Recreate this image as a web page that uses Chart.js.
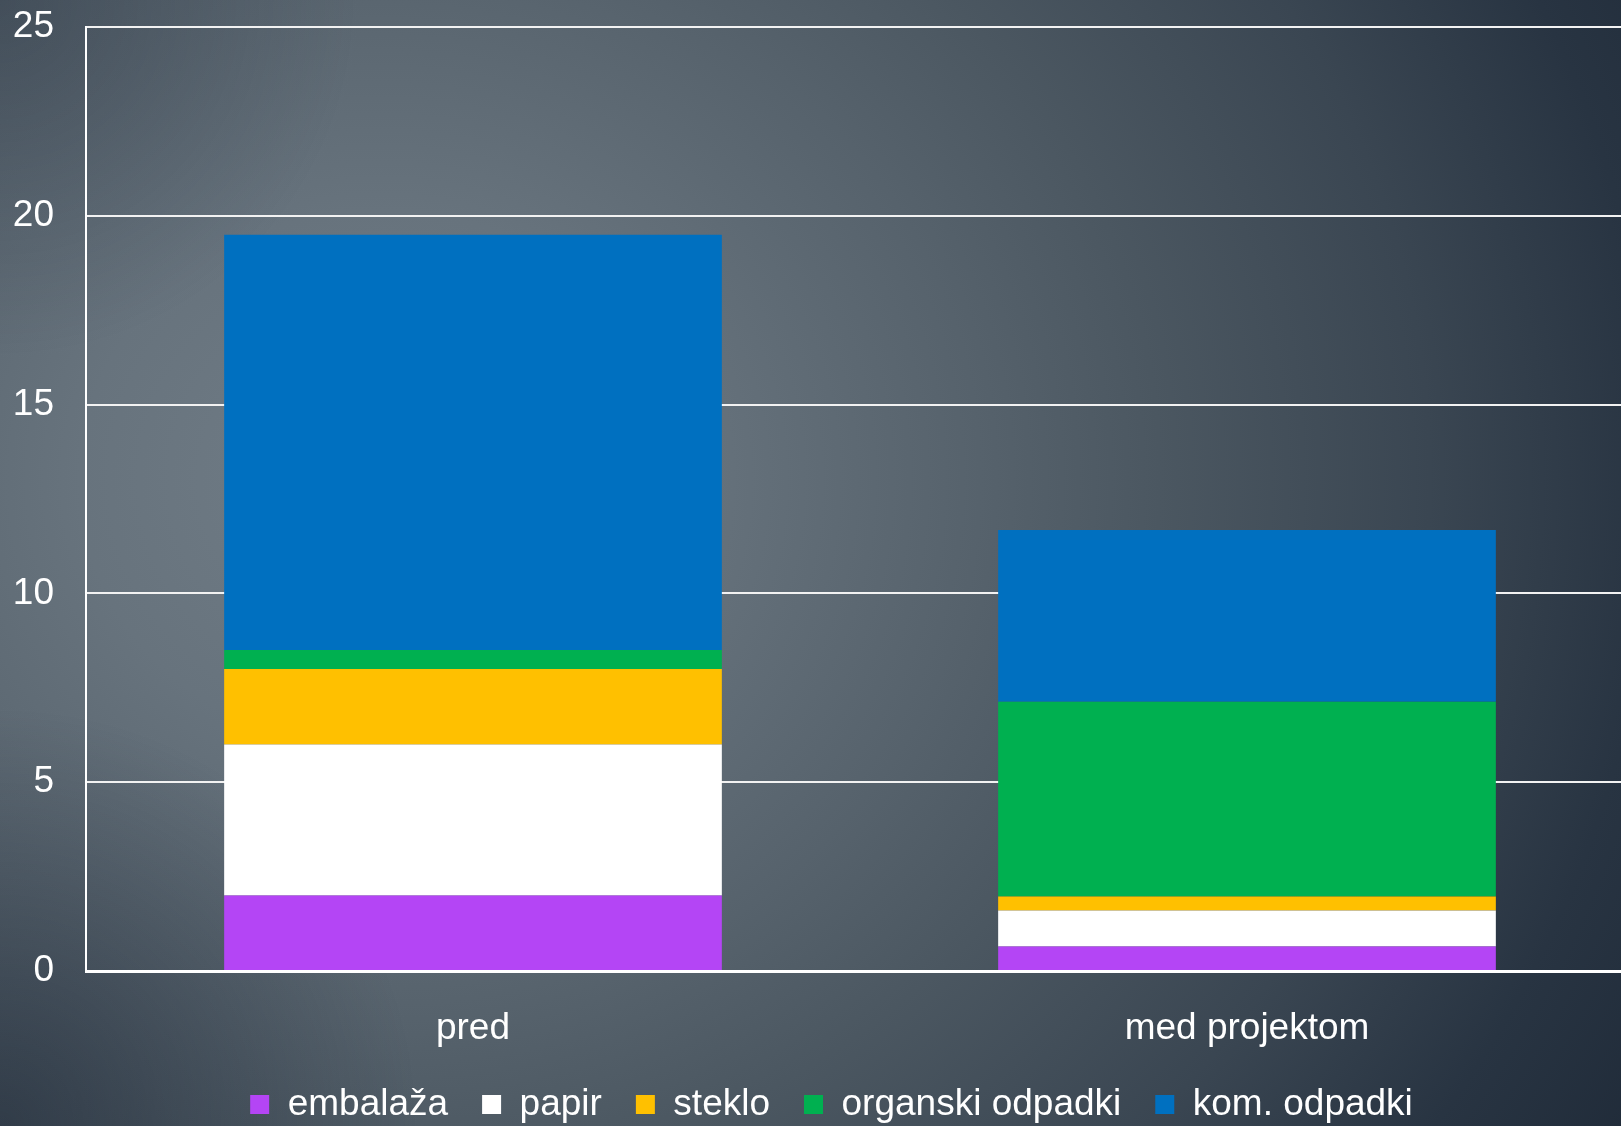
<!DOCTYPE html>
<html>
<head>
<meta charset="utf-8">
<title>Odpadki pred in med projektom</title>
<script src="https://cdn.jsdelivr.net/npm/chart.js@4.4.1/dist/chart.umd.min.js"></script>
<style>
  html, body { margin: 0; padding: 0; width: 100%; height: 100%; overflow: hidden; }
  body {
    background:
      radial-gradient(circle at 0px 1126px, rgba(25, 35, 50, 0.5) 0px, rgba(25, 35, 50, 0) 420px),
      radial-gradient(circle at 0px 0px, rgba(30, 40, 55, 0.3) 0px, rgba(30, 40, 55, 0) 360px),
      radial-gradient(ellipse 1500px 1350px at 380px 480px,
        #717d87 0%, #67737d 20%, #56626c 40%, #4b5761 52%, #3a4652 70%, #283442 85%, #1e2937 100%);
  }
  #wrap { position: absolute; left: 0; top: 0; width: 1634px; height: 1133px; }
</style>
</head>
<body>
<div id="wrap"><canvas id="odpadkiChart"></canvas></div>
<script>
// categories and series (stacked from the bottom up)
var categories = ['pred', 'med projektom'];
var embalaza = [2.0, 0.65];
var papir = [4.0, 0.95];
var steklo = [2.0, 0.37];
var organski = [0.5, 5.16];
var komunalni = [11.0, 4.55];
var yTicks = [0, 5, 10, 15, 20, 25];

var seriesNames = ['embalaža', 'papir', 'steklo', 'organski odpadki', 'kom. odpadki'];
var seriesValues = [embalaza, papir, steklo, organski, komunalni];
var seriesColors = ['#B445F5', '#FFFFFF', '#FFC000', '#00B050', '#0070C0'];

var datasets = seriesNames.map(function(name, i) {
    return {
        label: name,
        data: seriesValues[i],
        backgroundColor: seriesColors[i],
        borderWidth: 0,
        categoryPercentage: 1.0,
        barPercentage: 0.643
    };
});

var textFont = { family: '"Liberation Sans", Arial, sans-serif', size: 37 };

// nudge the legend row a little to the right
var legendShift = {
    id: 'legendShift',
    afterLayout: function(chart) {
        chart.legend.left += 29;
    }
};

var ctx = document.getElementById('odpadkiChart').getContext('2d');
var odpadkiChart = new Chart(ctx, {
    type: 'bar',
    data: { labels: categories, datasets: datasets },
    plugins: [legendShift],
    options: {
        responsive: true,
        maintainAspectRatio: false,
        animation: false,
        layout: { padding: { top: 27, left: 0, right: 0, bottom: 0 } },
        plugins: {
            tooltip: { enabled: false },
            legend: {
                position: 'bottom',
                labels: {
                    color: '#FFFFFF',
                    font: textFont,
                    boxWidth: 19,
                    boxHeight: 19,
                    padding: 34
                }
            }
        },
        scales: {
            x: {
                stacked: true,
                grid: { display: false, drawTicks: false },
                border: { display: true, color: '#FFFFFF', width: 3 },
                ticks: { color: '#FFFFFF', font: textFont, padding: 36 },
                afterFit: function(scale) { scale.height = 81; }
            },
            y: {
                stacked: true,
                min: 0,
                max: 25,
                afterBuildTicks: function(scale) {
                    scale.ticks = yTicks.map(function(v) { return { value: v }; });
                },
                grid: { color: '#F2F2F2', lineWidth: 2, drawTicks: false },
                border: { display: true, color: '#FFFFFF', width: 2 },
                ticks: { color: '#FFFFFF', font: textFont, padding: 32 },
                afterFit: function(scale) {
                    // fixed axis width; keep the tick padding out of the top/bottom reserve
                    scale.width = 86;
                    scale.paddingTop = 20;
                    scale.paddingBottom = 20;
                }
            }
        }
    }
});
</script>
</body>
</html>
